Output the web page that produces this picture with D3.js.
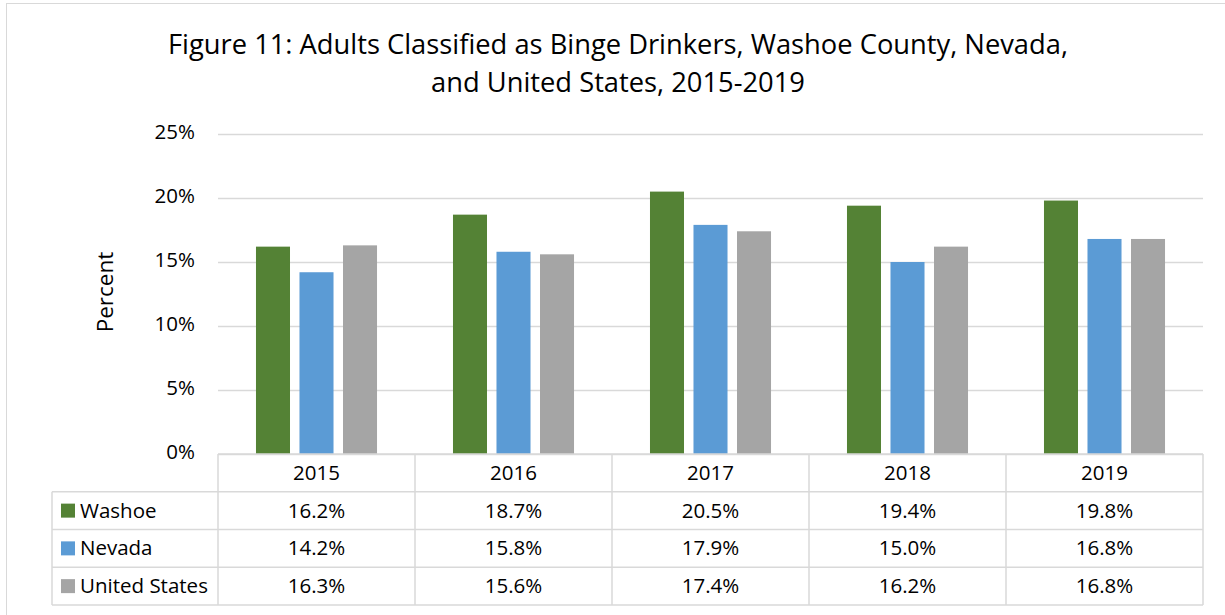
<!DOCTYPE html>
<html>
<head>
<meta charset="utf-8">
<script src="https://cdn.jsdelivr.net/npm/d3@7"></script>
<style>
  body { margin: 0; background: #fff; }
  svg { font-family: "Open Sans", Lato, sans-serif; }
</style>
</head>
<body>
<svg id="chart"></svg>
<script>
let years = ['2015', '2016', '2017', '2018', '2019'];
let seriesNames = ['Washoe', 'Nevada', 'United States'];
let washoe = [16.2, 18.7, 20.5, 19.4, 19.8];
let nevada = [14.2, 15.8, 17.9, 15.0, 16.8];
let unitedStates = [16.3, 15.6, 17.4, 16.2, 16.8];
let colors = ['#548235', '#5b9bd5', '#a5a5a5'];
let yTicks = [0, 5, 10, 15, 20, 25];

let width = 1225;
let height = 615;
let plotLeft = 218;
let plotRight = 1203;
let plotTop = 134;
let plotBottom = 454;
let tableLeft = 52;
let rowH = 37.75;
let labelSize = 20.5;

let series = [washoe, nevada, unitedStates];

let svg = d3.select('#chart').attr('width', width).attr('height', height);

// outer border
svg.append('rect')
    .attr('x', 6.5).attr('y', 3.5)
    .attr('width', width).attr('height', height)
    .attr('fill', 'none').attr('stroke', '#d9d9d9');

// title
let title = svg.append('text')
    .attr('text-anchor', 'middle')
    .attr('font-size', 27.3)
    .attr('fill', '#000');
title.append('tspan').attr('x', 618).attr('y', 54)
    .text('Figure 11: Adults Classified as Binge Drinkers, Washoe County, Nevada,');
title.append('tspan').attr('x', 618).attr('y', 92)
    .text('and United States, 2015-2019');

let xScale = d3.scaleBand().domain(years).range([plotLeft, plotRight]);
let xInner = d3.scaleBand().domain(seriesNames)
    .range([0, xScale.bandwidth()]).paddingInner(0.218).paddingOuter(0.873);
let yScale = d3.scaleLinear().domain([0, 25]).range([plotBottom, plotTop]);

// gridlines
let yAxis = d3.axisLeft(yScale).tickValues(yTicks)
    .tickSize(-(plotRight - plotLeft)).tickFormat((d) => d + '%');
let gy = svg.append('g')
    .attr('transform', `translate(${plotLeft},0)`)
    .call(yAxis);
gy.select('.domain').remove();
gy.selectAll('line').attr('stroke', '#d9d9d9').attr('stroke-width', 1.5);
gy.selectAll('text').attr('font-size', labelSize).attr('fill', '#000')
    .attr('font-family', '"Open Sans", sans-serif')
    .attr('x', -23).attr('dy', '0.2em');

// y label
svg.append('text')
    .attr('transform', 'translate(113,292) rotate(-90)')
    .attr('text-anchor', 'middle')
    .attr('font-size', 22.5)
    .text('Percent');

// bars
series.forEach((vals, i) => {
    svg.append('g').selectAll('rect')
        .data(vals)
        .enter()
        .append('rect')
        .attr('x', (d, j) => xScale(years[j]) + xInner(seriesNames[i]))
        .attr('width', xInner.bandwidth())
        .attr('y', (d) => yScale(d))
        .attr('height', (d) => yScale(0) - yScale(d))
        .attr('fill', colors[i]);
});

// data table
let tg = svg.append('g');
let gridColor = '#d9d9d9';
let tableTop = plotBottom;
let tableBottom = tableTop + rowH * 4;
for (let r = 0; r <= 4; r++) {
    let y = tableTop + rowH * r;
    tg.append('line')
        .attr('x1', r === 0 ? plotLeft : tableLeft).attr('x2', plotRight)
        .attr('y1', y).attr('y2', y)
        .attr('stroke', gridColor).attr('stroke-width', 1.5);
}
tg.append('line').attr('x1', tableLeft).attr('x2', tableLeft)
    .attr('y1', tableTop + rowH).attr('y2', tableBottom)
    .attr('stroke', gridColor).attr('stroke-width', 1.5);
years.forEach((y) => {
    let x = xScale(y);
    tg.append('line').attr('x1', x).attr('x2', x)
        .attr('y1', tableTop).attr('y2', tableBottom)
        .attr('stroke', gridColor).attr('stroke-width', 1.5);
});
tg.append('line').attr('x1', plotRight).attr('x2', plotRight)
    .attr('y1', tableTop).attr('y2', tableBottom)
    .attr('stroke', gridColor).attr('stroke-width', 1.5);

// header
tg.selectAll('.yr')
    .data(years)
    .enter()
    .append('text')
    .attr('x', (d) => xScale(d) + xScale.bandwidth() / 2)
    .attr('y', tableTop + rowH / 2 + 7)
    .attr('text-anchor', 'middle')
    .attr('font-size', labelSize)
    .text((d) => d);

// rows
series.forEach((vals, i) => {
    let cy = tableTop + rowH * (i + 1) + rowH / 2;
    tg.append('rect')
        .attr('x', 61).attr('y', cy - 7)
        .attr('width', 14).attr('height', 14)
        .attr('fill', colors[i]);
    tg.append('text')
        .attr('x', 80).attr('y', cy + 7)
        .attr('font-size', labelSize)
        .text(seriesNames[i]);
    tg.selectAll('.v' + i)
        .data(vals)
        .enter()
        .append('text')
        .attr('x', (d, j) => xScale(years[j]) + xScale.bandwidth() / 2)
        .attr('y', cy + 7)
        .attr('text-anchor', 'middle')
        .attr('font-size', labelSize)
        .text((d) => d.toFixed(1) + '%');
});
</script>
</body>
</html>
